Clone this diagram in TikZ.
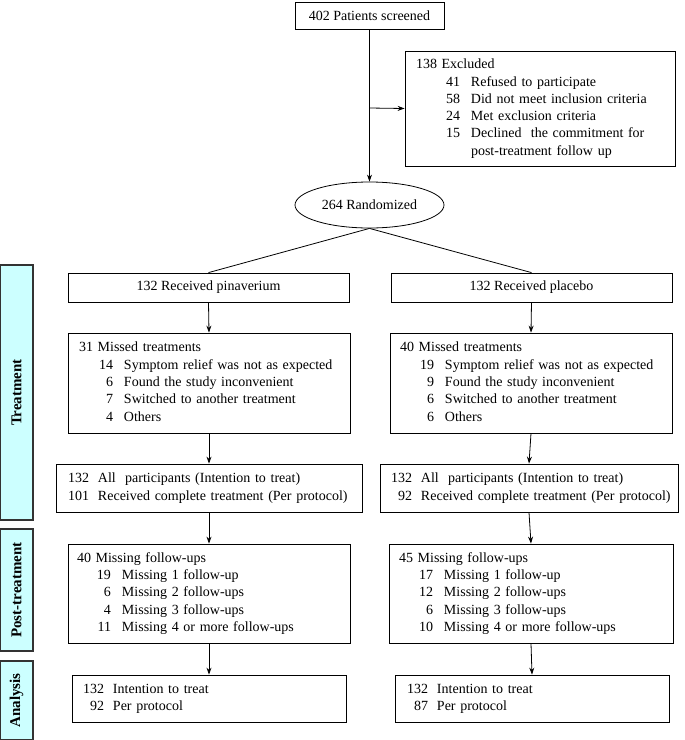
\documentclass[tikz,border=0pt]{standalone}
\usepackage{fontspec}
\setmainfont{Liberation Serif}
\usetikzlibrary{arrows.meta,shapes.geometric}
\definecolor{side}{HTML}{CCFFFF}
\begin{document}
\fontsize{14}{17.3}\selectfont
\begin{tikzpicture}[x=1pt,y=-1pt,
  box/.style={draw,line width=0.8pt,rectangle,inner sep=0pt,minimum width=#1},
  lbox/.style 2 args={draw,line width=0.8pt,rectangle,inner ysep=0pt,inner xsep=#2,text width=#1-2*#2,align=left},
  bar/.style={draw=black!80,line width=1.3pt,fill=side,inner sep=0pt,font=\fontsize{15}{18}\selectfont\bfseries},
  arr/.style={-{Stealth[length=7pt,width=5pt]},line width=0.8pt},
  ln/.style={line width=0.8pt}]
\useasboundingbox (0,0) rectangle (685,740);
% side bars
\node[bar,minimum width=33pt,minimum height=255pt] (sT) at (16.5,392.5) {};
\node[rotate=90,font=\fontsize{15}{18}\selectfont\bfseries] (tT) at (sT) {Treatment};
\node[bar,minimum width=33pt,minimum height=122pt] (sP) at (16.5,590) {};
\node[rotate=90,font=\fontsize{15}{18}\selectfont\bfseries] (tP) at (sP) {Post-treatment};
\node[bar,minimum width=33pt,minimum height=79pt] (sA) at (16.5,700.5) {};
\node[rotate=90,font=\fontsize{15}{18}\selectfont\bfseries] (tA) at (sA) {Analysis};
% top
\node[box=149pt,minimum height=27pt] (top) at (369.5,15.5) {402 Patients screened};
\node[lbox={270pt}{11pt},minimum height=115pt] (ex) at (540,108.5) {%
\begin{tabular}{@{\hspace{30pt}}r@{\hspace{11pt}}l@{}}
\multicolumn{2}{@{}l}{138 Excluded}\\
41 & Refused to participate\\
58 & Did not meet inclusion criteria\\
24 & Met exclusion criteria\\
15 & Declined\ \ the commitment for\\
 & post-treatment follow up
\end{tabular}};
\node[draw,line width=0.8pt,ellipse,minimum width=149pt,minimum height=46pt,inner sep=0pt] (rand) at (369.5,205) {264 Randomized};
\coordinate (br) at (369.5,108);
\draw[arr] (top.south) -- (rand.north);
\draw[arr] (br) -- (ex.west);
% received
\node[box=281pt,minimum height=29pt] (pin) at (208.5,287.5) {132 Received pinaverium};
\node[box=281pt,minimum height=29pt] (pla) at (531.5,287.5) {132 Received placebo};
\draw[ln] (rand.south) -- (pin.north);
\draw[ln] (rand.south) -- (pla.north);
% missed
\node[lbox={282pt}{11pt},minimum height=100pt] (mL) at (209,383) {%
\begin{tabular}{@{\hspace{20pt}}r@{\hspace{11pt}}l@{}}
\multicolumn{2}{@{}l}{31 Missed treatments}\\
14 & Symptom relief was not as expected\\
6 & Found the study inconvenient\\
7 & Switched to another treatment\\
4 & Others
\end{tabular}};
\node[lbox={282pt}{10pt},minimum height=100pt] (mR) at (531,383) {%
\begin{tabular}{@{\hspace{20pt}}r@{\hspace{11pt}}l@{}}
\multicolumn{2}{@{}l}{40 Missed treatments}\\
19 & Symptom relief was not as expected\\
9 & Found the study inconvenient\\
6 & Switched to another treatment\\
6 & Others
\end{tabular}};
\draw[arr] (pin.south) -- (mL.north);
\draw[arr] (pla.south) -- (mR.north);
% ITT
\node[lbox={306pt}{12pt},minimum height=48pt] (iL) at (209,488) {%
\begin{tabular}{@{}r@{\hspace{9pt}}l@{}}
132 & All\ \ participants (Intention to treat)\\
101 & Received complete treatment (Per protocol)
\end{tabular}};
\node[lbox={298pt}{11pt},minimum height=48pt] (iR) at (529,488) {%
\begin{tabular}{@{}r@{\hspace{9pt}}l@{}}
132 & All\ \ participants (Intention to treat)\\
92 & Received complete treatment (Per protocol)
\end{tabular}};
\draw[arr] (mL.south) -- (iL.north);
\draw[arr] (mR.south) -- (iR.north);
% follow-ups
\node[lbox={282pt}{9pt},minimum height=99pt] (fL) at (209,593.5) {%
\begin{tabular}{@{\hspace{20pt}}r@{\hspace{11pt}}l@{}}
\multicolumn{2}{@{}l}{40 Missing follow-ups}\\
19 & Missing 1 follow-up\\
6 & Missing 2 follow-ups\\
4 & Missing 3 follow-ups\\
11 & Missing 4 or more follow-ups
\end{tabular}};
\node[lbox={284pt}{10pt},minimum height=99pt] (fR) at (531,593.5) {%
\begin{tabular}{@{\hspace{20pt}}r@{\hspace{11pt}}l@{}}
\multicolumn{2}{@{}l}{45 Missing follow-ups}\\
17 & Missing 1 follow-up\\
12 & Missing 2 follow-ups\\
6 & Missing 3 follow-ups\\
10 & Missing 4 or more follow-ups
\end{tabular}};
\draw[arr] (iL.south) -- (fL.north);
\draw[arr] (iR.south) -- (fR.north);
% analysis
\node[lbox={274pt}{11pt},minimum height=47pt] (aL) at (209,698.5) {%
\begin{tabular}{@{}r@{\hspace{9pt}}l@{}}
132 & Intention to treat\\
92 & Per protocol
\end{tabular}};
\node[lbox={274pt}{12pt},minimum height=47pt] (aR) at (532,698.5) {%
\begin{tabular}{@{}r@{\hspace{9pt}}l@{}}
132 & Intention to treat\\
87 & Per protocol
\end{tabular}};
\draw[arr] (fL.south) -- (aL.north);
\draw[arr] (fR.south) -- (aR.north);
\end{tikzpicture}
\end{document}
